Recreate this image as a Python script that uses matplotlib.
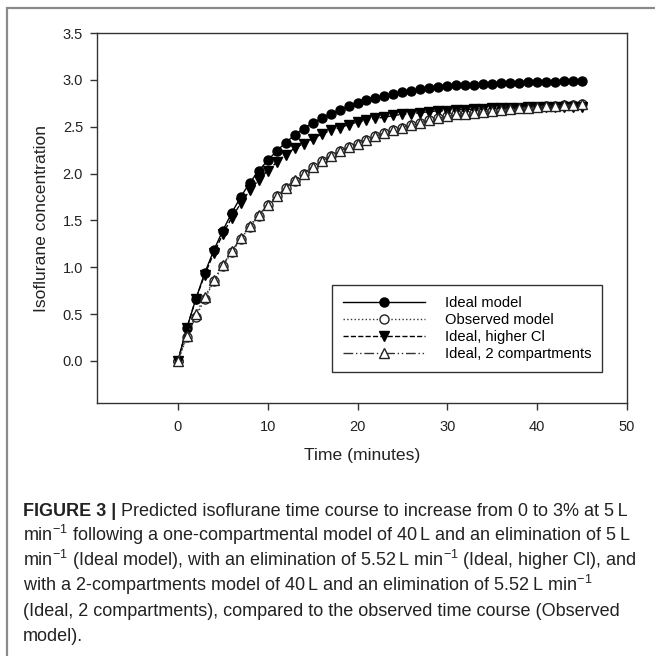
import numpy as np
import matplotlib
matplotlib.use("Agg")
import matplotlib.pyplot as plt
from matplotlib.patches import Rectangle

# time points (minutes)
time_min = list(range(0, 46))

ideal_model = [0.00, 0.35, 0.66, 0.94, 1.18, 1.39, 1.58, 1.75, 1.90, 2.03,
               2.14, 2.24, 2.33, 2.41, 2.48, 2.54, 2.59, 2.64, 2.68, 2.72,
               2.75, 2.78, 2.81, 2.83, 2.85, 2.87, 2.88, 2.90, 2.91, 2.92,
               2.93, 2.94, 2.95, 2.95, 2.96, 2.96, 2.97, 2.97, 2.97, 2.98,
               2.98, 2.98, 2.98, 2.99, 2.99, 2.99]

observed_model = [0.00, 0.25, 0.47, 0.66, 0.85, 1.01, 1.16, 1.30, 1.43, 1.55,
                  1.66, 1.76, 1.84, 1.92, 2.00, 2.07, 2.13, 2.19, 2.24, 2.28,
                  2.32, 2.36, 2.40, 2.43, 2.46, 2.49, 2.52, 2.54, 2.57, 2.59,
                  2.61, 2.63, 2.64, 2.65, 2.66, 2.67, 2.68, 2.69, 2.70, 2.70,
                  2.71, 2.72, 2.72, 2.73, 2.73, 2.74]

ideal_higher_cl = [0.00, 0.35, 0.66, 0.92, 1.15, 1.35, 1.53, 1.68, 1.82, 1.93,
                   2.03, 2.12, 2.20, 2.27, 2.32, 2.37, 2.42, 2.46, 2.49, 2.52,
                   2.55, 2.57, 2.59, 2.60, 2.62, 2.63, 2.64, 2.65, 2.66, 2.67,
                   2.67, 2.68, 2.68, 2.69, 2.69, 2.70, 2.70, 2.70, 2.70, 2.71,
                   2.71, 2.71, 2.71, 2.71, 2.71, 2.71]

ideal_2comp = [0.00, 0.27, 0.50, 0.68, 0.86, 1.02, 1.17, 1.31, 1.44, 1.56,
               1.66, 1.76, 1.85, 1.93, 2.00, 2.07, 2.13, 2.19, 2.24, 2.28,
               2.32, 2.36, 2.40, 2.43, 2.46, 2.49, 2.52, 2.54, 2.57, 2.59,
               2.61, 2.63, 2.64, 2.65, 2.66, 2.67, 2.68, 2.69, 2.70, 2.70,
               2.71, 2.72, 2.72, 2.73, 2.73, 2.74]

labels = ["Ideal model", "Observed model", "Ideal, higher Cl",
          "Ideal, 2 compartments"]

caption_lines = [
    "Predicted isoflurane time course to increase from 0 to 3% at 5\u2009L",
    "min$^{-1}$ following a one-compartmental model of 40\u2009L and an elimination of 5\u2009L",
    "min$^{-1}$ (Ideal model), with an elimination of 5.52\u2009L min$^{-1}$ (Ideal, higher Cl), and",
    "with a 2-compartments model of 40\u2009L and an elimination of 5.52\u2009L min$^{-1}$",
    "(Ideal, 2 compartments), compared to the observed time course (Observed",
    "model).",
]

plt.rcParams['font.family'] = ['Liberation Sans', 'DejaVu Sans']
plt.rcParams['mathtext.fontset'] = 'custom'
plt.rcParams['mathtext.rm'] = 'Liberation Sans'
plt.rcParams['mathtext.it'] = 'Liberation Sans'
plt.rcParams['mathtext.bf'] = 'Liberation Sans:bold'

W, H = 655, 656
fig = plt.figure(figsize=(W / 100, H / 100), dpi=100)

# outer frame of the figure panel
fig.patches.append(Rectangle((7 / W, -0.05), 1.1, 1 - 8 / H + 0.05,
                             transform=fig.transFigure, fill=False,
                             edgecolor='#8a8a8a', linewidth=1.6))

ax = fig.add_axes([97 / W, 1 - 403 / H, 530 / W, 370 / H])

ms = 6.5
ax.plot(time_min, ideal_model, '-', color='black', lw=1.0,
        marker='o', ms=ms, mfc='black', mec='black', label=labels[0])
ax.plot(time_min, observed_model, ':', color='#333333', lw=1.0,
        marker='o', ms=ms, mfc='white', mec='#222222', mew=1.0, label=labels[1])
ax.plot(time_min, ideal_higher_cl, '--', color='black', lw=1.0,
        marker='v', ms=ms, mfc='black', mec='black', label=labels[2])
ax.plot(time_min, ideal_2comp, color='#333333', lw=1.0,
        dashes=[7, 2, 1, 2, 1, 2], marker='^', ms=ms, mfc='white',
        mec='#222222', mew=1.0, label=labels[3])

ax.set_xlim(-9, 50)
ax.set_ylim(-0.45, 3.5)
ax.set_xticks(np.arange(0, 51, 10))
ax.set_yticks(np.arange(0, 3.51, 0.5))
ax.set_yticklabels(["%.1f" % v for v in np.arange(0, 3.51, 0.5)])
ax.tick_params(direction='out', length=5, width=1, labelsize=10.5,
               color='#333333', labelcolor='#222222')
ax.tick_params(axis='x', pad=7)
ax.tick_params(axis='y', pad=5)
for s in ax.spines.values():
    s.set_color('#333333')
    s.set_linewidth(1.0)

ax.set_xlabel("Time (minutes)", fontsize=12.6, color='#222222', labelpad=10)
ax.set_ylabel("Isoflurane concentration", fontsize=12.6, color='#222222',
              labelpad=10)

leg = ax.legend(loc='upper right', bbox_to_anchor=(0.953, 0.319),
                fontsize=10.6, frameon=True, fancybox=False,
                edgecolor='black', handlelength=5.6, handletextpad=1.3,
                labelspacing=0.2, borderpad=0.75, borderaxespad=0)
leg.get_frame().set_linewidth(1.0)

# caption
cap_size = 13
first = fig.text(23 / W, 1 - 516 / H, "FIGURE 3 |", fontsize=cap_size,
                 fontweight='bold', va='baseline', color='#222222')
ax.annotate(" " + caption_lines[0], xy=(1, 0), xycoords=first,
            fontsize=cap_size, va='bottom', ha='left', color='#222222',
            annotation_clip=False)
line_y = [541, 566, 591, 616, 641]
for txt, yy in zip(caption_lines[1:], line_y):
    fig.text(23 / W, 1 - yy / H, txt, fontsize=cap_size, va='baseline',
             color='#222222')

fig.savefig("out.png", dpi=100)
